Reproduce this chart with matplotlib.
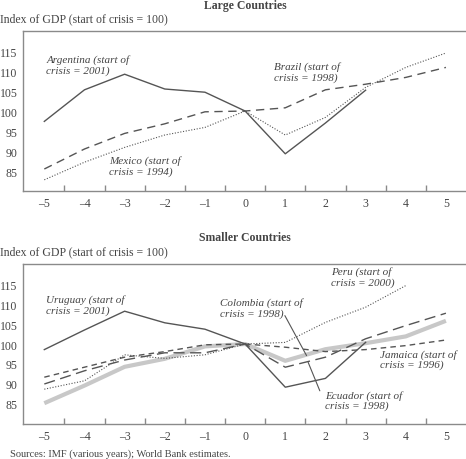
import matplotlib
matplotlib.use("Agg")
import matplotlib.pyplot as plt

# years relative to start of crisis
years = [-5, -4, -3, -2, -1, 0, 1, 2, 3, 4, 5]

# Large countries
argentina = [97.4, 105.3, 109.2, 105.5, 104.7, 100.0, 89.3, 97.0, 105.2]
brazil = [85.5, 90.5, 94.4, 96.8, 99.8, 100.0, 100.8, 105.3, 106.7, 108.4, 110.9]
mexico = [82.8, 87.2, 90.9, 94.0, 95.9, 100.0, 94.0, 98.4, 105.9, 110.9, 114.5]

# Smaller countries
uruguay = [98.6, 103.5, 108.2, 105.3, 103.7, 100.0, 89.2, 91.4, 100.4]
ecuador = [90.0, 93.3, 96.0, 97.8, 97.8, 100.0, 94.2, 96.7, 101.3, 104.6, 107.7]
jamaica = [91.7, 94.2, 96.7, 98.1, 99.8, 100.0, 99.2, 98.1, 98.6, 99.6, 101.0]
peru = [88.7, 90.8, 97.3, 96.4, 97.3, 100.0, 100.4, 105.4, 109.2, 114.6]
colombia = [85.2, 89.6, 94.3, 96.3, 99.4, 100.0, 95.8, 98.7, 100.2, 101.9, 105.8]

yticks = [85, 90, 95, 100, 105, 110, 115]
ylabel = "Index of GDP (start of crisis = 100)"

SERIF = "Liberation Serif"
TXT = "#444444"
LINE = "#555555"
SPINE = "#8a8a8a"

plt.rcParams["font.family"] = SERIF


def style_axes(ax):
    ax.set_xlim(-5.53, 5.5)
    ax.set_ylim(80, 120)
    ax.spines["right"].set_visible(False)
    for s in ["top", "left", "bottom"]:
        ax.spines[s].set_color(SPINE)
        ax.spines[s].set_linewidth(1.0)
    ax.set_xticks(years)
    ax.set_xticklabels([str(y).replace("-", "\u2013") for y in years])
    ax.set_xticks([y + 0.5 for y in years[:-1]], minor=True)
    ax.set_yticks(yticks)
    ax.tick_params(axis="x", which="major", length=0, pad=4, labelsize=8.5, labelcolor=TXT)
    ax.tick_params(axis="x", which="minor", length=4, direction="in", color=SPINE, width=1)
    ax.tick_params(axis="y", length=0, pad=4, labelsize=8.5, labelcolor=TXT)


fig = plt.figure(figsize=(4.66, 4.60), dpi=100)
ax1 = fig.add_axes([0.0494, 0.5826, 0.9506, 0.3478])
ax2 = fig.add_axes([0.0494, 0.0761, 0.9506, 0.3478])

# --- Large countries ---
ax1.plot(years[:len(argentina)], argentina, color=LINE, lw=1.0)
ax1.plot(years, brazil, color=LINE, lw=1.0, dashes=(6, 4))
ax1.plot(years, mexico, color=LINE, lw=0.8, dashes=(1, 1.5))
style_axes(ax1)

lab = dict(fontsize=8, style="italic", color=TXT, va="top", ha="left", linespacing=1.15)
ax1.text(-4.95, 114.2, "Argentina (start of\ncrisis = 2001)", **lab)
ax1.text(0.71, 112.4, "Brazil (start of\ncrisis = 1998)", **lab)
ax1.text(-3.38, 89.0, "Mexico (start of\ncrisis = 1994)", **lab)

# --- Smaller countries ---
ax2.plot(years, colombia, color="#c8c8c8", lw=3.0, solid_capstyle="butt")
ax2.plot(years[:len(uruguay)], uruguay, color=LINE, lw=1.0)
ax2.plot(years, ecuador, color=LINE, lw=1.0, dashes=(8, 4))
ax2.plot(years, jamaica, color=LINE, lw=1.0, dashes=(4, 3))
ax2.plot(years[:len(peru)], peru, color=LINE, lw=0.8, dashes=(1, 1.5))
style_axes(ax2)

ax2.text(-4.97, 112.5, "Uruguay (start of\ncrisis = 2001)", **lab)
ax2.text(-0.63, 111.7, "Colombia (start of\ncrisis = 1998)", **lab)
ax2.text(2.14, 119.4, "Peru (start of\ncrisis = 2000)", **lab)
ax2.text(3.36, 98.8, "Jamaica (start of\ncrisis = 1996)", **lab)
ax2.text(1.99, 88.6, "Ecuador (start of\ncrisis = 1998)", **lab)
ax2.annotate("", xy=(1.53, 97.1), xytext=(0.99, 107.1),
             arrowprops=dict(arrowstyle="-", color=LINE, lw=0.8, shrinkA=0, shrinkB=0))
ax2.annotate("", xy=(1.57, 95.4), xytext=(1.86, 88.3),
             arrowprops=dict(arrowstyle="-", color=LINE, lw=0.8, shrinkA=0, shrinkB=0))

# titles and axis captions
fig.text(0.526, 1 - 6 / 460, "Large Countries", ha="center", va="center",
         fontsize=8.5, fontweight="bold", color=TXT)
fig.text(0.0, 1 - 19 / 460, ylabel, ha="left", va="center", fontsize=8.5, color=TXT)
fig.text(0.526, 1 - 238 / 460, "Smaller Countries", ha="center", va="center",
         fontsize=8.5, fontweight="bold", color=TXT)
fig.text(0.0, 1 - 252 / 460, ylabel, ha="left", va="center", fontsize=8.5, color=TXT)
fig.text(0.022, 1 / 460, "Sources: IMF (various years); World Bank estimates.",
         ha="left", va="bottom", fontsize=7.5, color=TXT)

fig.savefig("out.png", dpi=100)
